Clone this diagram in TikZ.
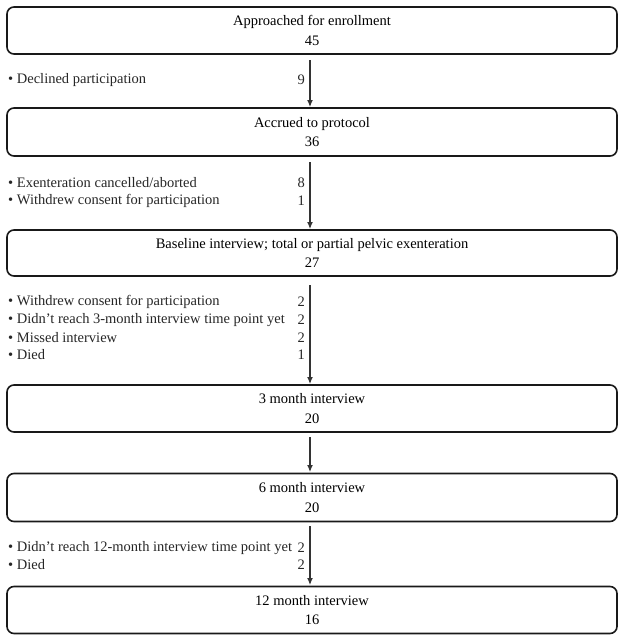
\documentclass[tikz,border=0pt]{standalone}
\usepackage{fontspec}
\setmainfont{Liberation Serif}
\usetikzlibrary{arrows.meta}
\begin{document}
\begin{tikzpicture}[x=1pt,y=-1pt,
  stagebox/.style={draw=black!90,line width=1.6pt,rounded corners=7pt,minimum width=610pt,inner sep=0pt,align=center,font=\fontsize{14.5}{19.5}\selectfont},
  flow/.style={draw=black!80,line width=1.2pt,-{Latex[length=7pt,width=6pt]}},
  item/.style={anchor=west,inner sep=0pt,font=\fontsize{14.5}{15}\selectfont,text=black!85},
  num/.style={anchor=east,inner sep=0pt,font=\fontsize{14.5}{15}\selectfont,text=black!85}]
\useasboundingbox (0,0) rectangle (624,641);
\node[stagebox,minimum height=47pt] (b1) at (312,30.5) {Approached for enrollment\\45};
\node[stagebox,minimum height=48pt] (b2) at (312,132) {Accrued to protocol\\36};
\node[stagebox,minimum height=46pt] (b3) at (312,253) {Baseline interview; total or partial pelvic exenteration\\27};
\node[stagebox,minimum height=47pt] (b4) at (312,408.5) {3 month interview\\20};
\node[stagebox,minimum height=48pt] (b5) at (312,497.5) {6 month interview\\20};
\node[stagebox,minimum height=47pt] (b6) at (312,610) {12 month interview\\16};
\coordinate (s1) at (310,60); \coordinate (e1) at (310,107);
\coordinate (s2) at (310,162); \coordinate (e2) at (310,229);
\coordinate (s3) at (310,285); \coordinate (e3) at (310,384);
\coordinate (s4) at (310,437); \coordinate (e4) at (310,472);
\coordinate (s5) at (310,526); \coordinate (e5) at (310,585);
\draw[flow] (s1) -- (e1);
\draw[flow] (s2) -- (e2);
\draw[flow] (s3) -- (e3);
\draw[flow] (s4) -- (e4);
\draw[flow] (s5) -- (e5);
\node[item] (t1) at (8,80) {\textbullet\ Declined participation};
\node[num] (n1) at (305,80) {9};
\node[item] (t2a) at (8,183) {\textbullet\ Exenteration cancelled/aborted};
\node[num] (n2a) at (305,183) {8};
\node[item] (t2b) at (8,201) {\textbullet\ Withdrew consent for participation};
\node[num] (n2b) at (305,201) {1};
\node[item] (t3a) at (8,302) {\textbullet\ Withdrew consent for participation};
\node[num] (n3a) at (305,302) {2};
\node[item] (t3b) at (8,320) {\textbullet\ Didn't reach 3-month interview time point yet};
\node[num] (n3b) at (305,320) {2};
\node[item] (t3c) at (8,338) {\textbullet\ Missed interview};
\node[num] (n3c) at (305,338) {2};
\node[item] (t3d) at (8,355) {\textbullet\ Died};
\node[num] (n3d) at (305,355) {1};
\node[item] (t5a) at (8,548) {\textbullet\ Didn't reach 12-month interview time point yet};
\node[num] (n5a) at (305,548) {2};
\node[item] (t5b) at (8,565) {\textbullet\ Died};
\node[num] (n5b) at (305,565) {2};
\end{tikzpicture}
\end{document}
